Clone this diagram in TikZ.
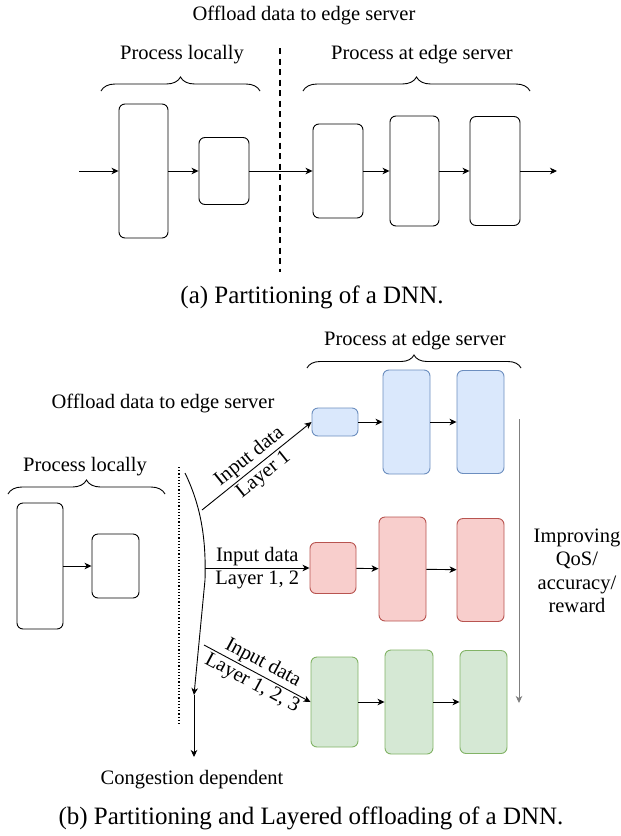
\documentclass[tikz,border=0pt]{standalone}
\usepackage{fontspec}
\setmainfont{Liberation Serif}
\usetikzlibrary{arrows.meta,decorations.pathreplacing}
\definecolor{bluefill}{HTML}{DAE8FC}
\definecolor{blueline}{HTML}{6C8EBF}
\definecolor{redfill}{HTML}{F8CECC}
\definecolor{redline}{HTML}{B85450}
\definecolor{greenfill}{HTML}{D5E8D4}
\definecolor{greenline}{HTML}{82B366}
\definecolor{qosgray}{HTML}{7F7F7F}
\begin{document}
\begin{tikzpicture}[x=1pt,y=-1pt,line width=0.9pt,
    font=\fontsize{20.5}{23.5}\selectfont,
    layer/.style 2 args={draw,rounded corners=6pt,inner sep=0pt,
      minimum width=#1pt,minimum height=#2pt},
    flow/.style={-{Stealth[length=7pt,width=6.5pt,inset=2pt]}},
    curly/.style={decorate,decoration={brace,amplitude=#1}},
    caption/.style={font=\fontsize{25}{30}\selectfont}]
  \useasboundingbox (0,0) rectangle (621,836);

  % (a) split DNN
  \node (offa) at (304,15) {Offload data to edge server};
  \node (loca) at (182,55) {Process locally};
  \node (edga) at (422,55) {Process at edge server};
  \draw[curly=14pt] (101,91) -- (260,91);
  \draw[curly=14pt] (303,91) -- (530,91);
  \draw[line width=1.4pt,dash pattern=on 6pt off 4.5pt] (280,48) -- (280,272);

  \node[layer={49}{134}] (a1) at (143.5,171) {};
  \node[layer={50}{67}]  (a2) at (224,171) {};
  \node[layer={50}{94}]  (a3) at (338,171) {};
  \node[layer={49}{110}] (a4) at (414.5,171) {};
  \node[layer={50}{109}] (a5) at (495,171) {};
  \coordinate (ain) at (79,171);
  \coordinate (aout) at (557,171);
  \draw[flow] (ain) -- (a1.west);
  \draw[flow] (a1) -- (a2);
  \draw[flow] (a2) -- (a3);
  \draw[flow] (a3) -- (a4);
  \draw[flow] (a4) -- (a5);
  \draw[flow] (a5.east) -- (aout);
  \node[caption] (capa) at (312,297) {(a) Partitioning of a DNN.};

  % (b) layered offloading
  \node (edgb) at (415,341) {Process at edge server};
  \draw[curly=13pt] (307,368) -- (521,368);
  \node (offb) at (163,403) {Offload data to edge server};
  \node (locb) at (85,467) {Process locally};
  \draw[curly=14pt] (8,494) -- (165,494);

  \node[layer={46}{126}] (l1) at (40,566) {};
  \node[layer={47}{64}]  (l2) at (115.5,566) {};
  \draw[flow] (l1) -- (l2);

  \draw[dotted,line width=1.2pt] (179,467) -- (179,725);

  \coordinate (cgtop) at (185,473);
  \coordinate (cgbend) at (205,580);
  \coordinate (cgmid) at (194,695);
  \coordinate (cgend) at (194,757);
  \draw[flow] (cgtop) .. controls (203,510) and (206,545) .. (cgbend) -- (cgmid);
  \draw[flow] (cgmid) -- (cgend);
  \node (cong) at (192,780) {Congestion dependent};

  \node[layer={46}{28},fill=bluefill,draw=blueline]    (b1) at (335,422) {};
  \node[layer={47}{104},fill=bluefill,draw=blueline]   (b2) at (406.5,422) {};
  \node[layer={47}{103},fill=bluefill,draw=blueline]   (b3) at (480.5,422) {};
  \node[layer={46}{51},fill=redfill,draw=redline]      (r1) at (333,568) {};
  \node[layer={47}{104},fill=redfill,draw=redline]     (r2) at (402.5,569) {};
  \node[layer={47}{103},fill=redfill,draw=redline]     (r3) at (480.5,570) {};
  \node[layer={47}{90},fill=greenfill,draw=greenline]  (g1) at (334.5,702) {};
  \node[layer={48}{104},fill=greenfill,draw=greenline] (g2) at (409,702) {};
  \node[layer={47}{103},fill=greenfill,draw=greenline] (g3) at (483.5,702) {};
  \foreach \u/\v in {b1/b2,b2/b3,r1/r2,r2/r3,g1/g2,g2/g3}
    \draw[flow] (\u) -- (\v);

  \coordinate (in1) at (202,510);
  \coordinate (in2) at (205,568);
  \coordinate (in3) at (204,645);
  \draw[flow] (in1) -- node[sloped,above,inner sep=2pt] {Input data}
    node[sloped,below,inner sep=2pt] {Layer 1} (b1.west);
  \draw[flow] (in2) -- node[above,inner sep=2pt] {Input data}
    node[below,inner sep=2pt] {Layer 1, 2} (r1.west);
  \draw[flow] (in3) -- node[sloped,above,inner sep=2pt] {Input data}
    node[sloped,below,inner sep=2pt] {Layer 1, 2, 3} (g1.west);

  \coordinate (qtop) at (519,419);
  \coordinate (qbot) at (519,703);
  \draw[flow,qosgray] (qtop) -- (qbot);
  \node[align=center] (qos) at (577,571) {Improving\\QoS/\\accuracy/\\reward};

  \node[caption] (capb) at (311,818) {(b) Partitioning and Layered offloading of a DNN.};
\end{tikzpicture}
\end{document}
